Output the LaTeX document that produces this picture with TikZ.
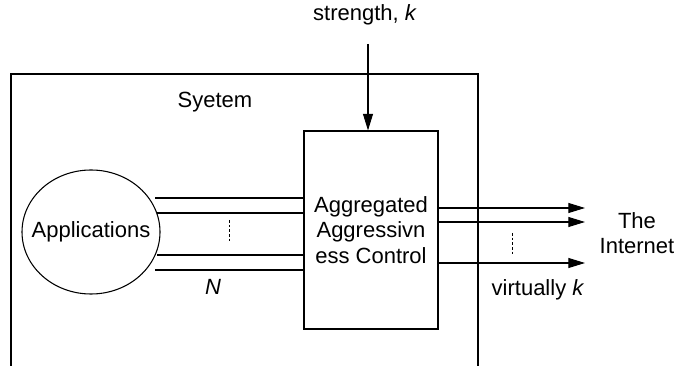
\documentclass[tikz,border=0pt]{standalone}
\usepackage{fontspec}
\setmainfont{Liberation Sans}
\usetikzlibrary{positioning,shapes.geometric,arrows.meta}

\begin{document}
\begin{tikzpicture}[x=0.75pt,y=-0.75pt,line width=0.8pt,
    every node/.style={font=\fontsize{16.5}{19}\selectfont,inner sep=0pt},
    block/.style={rectangle,draw,minimum width=100.5pt,minimum height=148.5pt,align=center},
    appbox/.style={ellipse,draw,minimum width=103.5pt,minimum height=93pt},
    outarrow/.style={-{Triangle[length=12.5pt,width=7.5pt]}},
    dots/.style={dashed,dash pattern=on 2pt off 1.5pt,line width=0.6pt}
]
\useasboundingbox (0,0) rectangle (678,366);

% system boundary (open at the bottom)
\draw (11,366) -- (11,74) -- (478,74) -- (478,366);
\node (sys) at (215,102) {Syetem};

\node[appbox,label=center:Applications] (apps) at (91,232) {};
\node[block] (ctrl) at (371,230) {Aggregated\\Aggressivn\\ess Control};

% inputs from the applications
\coordinate (in1) at (155,198);
\coordinate (in2) at (157,213);
\coordinate (in3) at (157,255);
\coordinate (in4) at (155,270);
\foreach \c in {in1,in2,in3,in4}
    \draw (\c) -- (\c -| ctrl.west);
\draw[dots] (229,220) -- (229,243);
\node (n) at (213,287) {\textit{N}};

% strength
\node (str) at (365,15) {strength, \textit{k}};
\coordinate (top) at (368,44);
\draw[outarrow] (top) -- (top |- ctrl.north);

% outputs to the internet
\coordinate (out1) at (585,208);
\coordinate (out2) at (585,222);
\coordinate (out3) at (585,263);
\foreach \c in {out1,out2,out3}
    \draw[outarrow] (\c -| ctrl.east) -- (\c);
\draw[dots] (512,233) -- (512,255);
\node (net) at (637,233) [align=center] {The\\Internet};
\node (virt) at (538,290) {virtually \textit{k}};
\end{tikzpicture}
\end{document}
